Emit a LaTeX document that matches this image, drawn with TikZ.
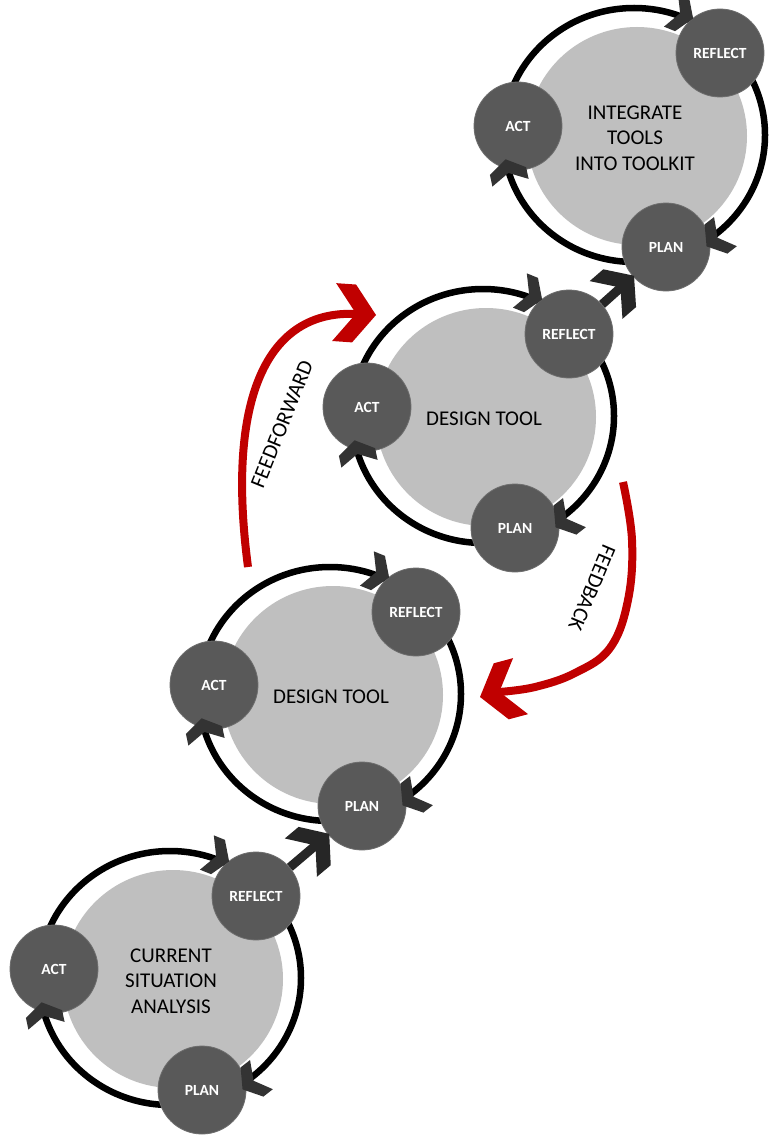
\documentclass[tikz,border=0pt]{standalone}
\usepackage{fontspec}
\setmainfont{Carlito}
\usetikzlibrary{calc}
\definecolor{discgrey}{HTML}{BFBFBF}
\definecolor{stagegrey}{HTML}{595959}
\definecolor{stageedge}{HTML}{6E6E6E}
\definecolor{chevgrey}{HTML}{333333}
\definecolor{linkgrey}{HTML}{262626}
\definecolor{feedred}{HTML}{C00000}
\tikzset{
  ring/.style={line width=6.5pt, draw=black},
  disc/.style={fill=discgrey},
  stage/.style={circle, fill=stagegrey, draw=stageedge, line width=0.8pt,
    minimum size=88pt, inner sep=0pt, text=white,
    font=\bfseries\fontsize{15.5}{18}\selectfont},
  title/.style={align=center, text=black, font=\fontsize{21}{25.5}\selectfont},
  feedlabel/.style={text=black, font=\fontsize{21.5}{26}\selectfont},
  link/.style={line width=9pt, draw=linkgrey},
  feed/.style={line width=8pt, draw=feedred},
  chev/.pic={\fill[fill=#1] (12,0) -- (0,18.5) -- (-12,18.5) -- (-2,0) -- (-12,-18.5) -- (0,-18.5) -- cycle;},
  bigchev/.pic={\fill[fill=#1] (0,0) -- (-22,29) -- (-42,29) -- (-20,0) -- (-42,-29) -- (-22,-29) -- cycle;},
  linkchev/.pic={\fill[fill=#1] (0,0) -- (-19,25) -- (-37,25) -- (-18,0) -- (-37,-25) -- (-19,-25) -- cycle;},
}
\newcommand\drawcycle[4]{%
  \begin{scope}[shift={(#2,#3)}]
    \fill[disc] (3,1) ellipse [x radius=110pt, y radius=109pt];
    \draw[ring] (0,0) ellipse [x radius=131pt, y radius=127pt];
    \node[stage] (act#1) at (-116,-9) {ACT};
    \node[stage] (refl#1) at (86,-82) {REFLECT};
    \node[stage] (plan#1) at (32,112) {PLAN};
    \pic[rotate=-22] at (48,-121) {chev=chevgrey};
    \pic[rotate=-142] at (82,104) {chev=chevgrey};
    \pic[rotate=102] at (-126,36) {chev=chevgrey};
    \node[title] (title#1) at (1,3) {#4};
  \end{scope}}
\begin{document}
\begin{tikzpicture}[x=1pt,y=-1pt]
\useasboundingbox (0,0) rectangle (780,1142);
\fill[white] (0,0) rectangle (780,1142);

\drawcycle{1}{170}{978}{CURRENT\\SITUATION\\ANALYSIS}
\drawcycle{2}{330}{694}{DESIGN TOOL}
\drawcycle{3}{483}{416}{DESIGN TOOL}
\drawcycle{4}{634}{135}{INTEGRATE\\TOOLS\\INTO TOOLKIT}

% links between cycles
\draw[link, shorten >=16pt] (refl1) -- (plan2);
\pic[rotate=40] at ($(plan2.center)!43pt!(refl1.center)$) {linkchev=linkgrey};
\draw[link, shorten >=16pt] (refl3) -- (plan4);
\pic[rotate=41] at ($(plan4.center)!43pt!(refl3.center)$) {linkchev=linkgrey};

% feedforward
\coordinate (fftip) at (376,315);
\draw[feed] (248,567) .. controls (226,400) and (266,309) .. (357,314);
\pic[rotate=-4] at (fftip) {bigchev=feedred};
\node[feedlabel, rotate=68] (ff) at (282,424) {FEEDFORWARD};

% feedback
\coordinate (fbtip) at (480,697);
\draw[feed] plot[smooth, tension=0.65] coordinates {(623,482) (632,540) (628,600) (610,648) (575,673) (535,687) (499,692)};
\pic[rotate=195] at (fbtip) {bigchev=feedred};
\node[feedlabel, rotate=-113] (fb) at (592,588) {FEEDBACK};
\end{tikzpicture}
\end{document}
